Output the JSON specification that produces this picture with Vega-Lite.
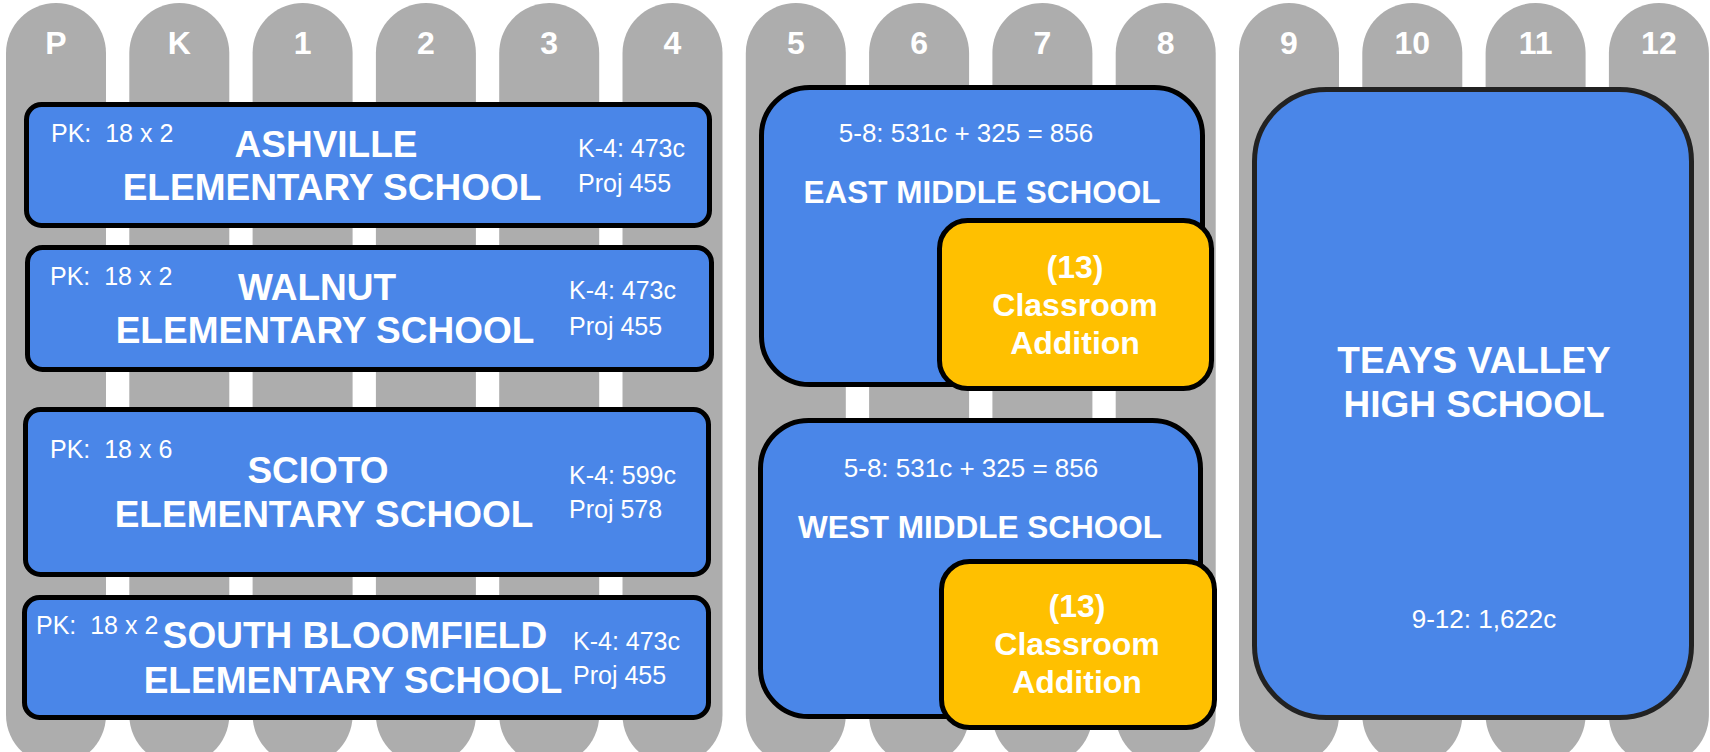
{
  "$schema": "https://vega.github.io/schema/vega-lite/v6.json",
  "width": 1710,
  "height": 752,
  "autosize": {"type": "none"},
  "padding": 0,
  "background": "white",
  "config": {"view": {"stroke": null}},
  "datasets": {
    "columns": [
      {"label": "P", "x0": 6, "x1": 106, "xc": 56, "y0": 3, "y1": 765, "ty": 54},
      {"label": "K", "x0": 129.3, "x1": 229.3, "xc": 179.3, "y0": 3, "y1": 765, "ty": 54},
      {"label": "1", "x0": 252.6, "x1": 352.6, "xc": 302.6, "y0": 3, "y1": 765, "ty": 54},
      {"label": "2", "x0": 375.9, "x1": 475.9, "xc": 425.9, "y0": 3, "y1": 765, "ty": 54},
      {"label": "3", "x0": 499.2, "x1": 599.2, "xc": 549.2, "y0": 3, "y1": 765, "ty": 54},
      {"label": "4", "x0": 622.5, "x1": 722.5, "xc": 672.5, "y0": 3, "y1": 765, "ty": 54},
      {"label": "5", "x0": 745.8, "x1": 845.8, "xc": 795.8, "y0": 3, "y1": 765, "ty": 54},
      {"label": "6", "x0": 869.1, "x1": 969.1, "xc": 919.1, "y0": 3, "y1": 765, "ty": 54},
      {"label": "7", "x0": 992.4, "x1": 1092.4, "xc": 1042.4, "y0": 3, "y1": 765, "ty": 54},
      {"label": "8", "x0": 1115.7, "x1": 1215.7, "xc": 1165.7, "y0": 3, "y1": 765, "ty": 54},
      {"label": "9", "x0": 1239, "x1": 1339, "xc": 1289, "y0": 3, "y1": 765, "ty": 54},
      {"label": "10", "x0": 1362.3, "x1": 1462.3, "xc": 1412.3, "y0": 3, "y1": 765, "ty": 54},
      {"label": "11", "x0": 1485.6, "x1": 1585.6, "xc": 1535.6, "y0": 3, "y1": 765, "ty": 54},
      {"label": "12", "x0": 1608.9, "x1": 1708.9, "xc": 1658.9, "y0": 3, "y1": 765, "ty": 54}
    ],
    "elem": [
      {"school": "Ashville", "x0": 26.5, "x1": 709.5, "y0": 104.5, "y1": 225.5},
      {"school": "Walnut", "x0": 27.5, "x1": 711.5, "y0": 247.5, "y1": 369.5},
      {"school": "Scioto", "x0": 25.5, "x1": 708.5, "y0": 409.5, "y1": 574.5},
      {"school": "South Bloomfield", "x0": 24.5, "x1": 708.5, "y0": 597.5, "y1": 717.5}
    ],
    "middle": [
      {"school": "East", "x0": 761.5, "x1": 1202.5, "y0": 87.5, "y1": 384.5},
      {"school": "West", "x0": 760.5, "x1": 1200.5, "y0": 420.5, "y1": 716.5}
    ],
    "high": [
      {"school": "Teays Valley", "x0": 1254.5, "x1": 1691.5, "y0": 89.5, "y1": 717.5}
    ],
    "additions": [
      {"school": "East", "x0": 939.5, "x1": 1211.5, "y0": 220.5, "y1": 388.5},
      {"school": "West", "x0": 941.5, "x1": 1214.5, "y0": 561.5, "y1": 727.5}
    ],
    "smallLeft": [
      {"t": "PK:\u00a0 18 x 2", "x": 51, "y": 142},
      {"t": "K-4: 473c", "x": 578, "y": 157},
      {"t": "Proj 455", "x": 578, "y": 192},
      {"t": "PK:\u00a0 18 x 2", "x": 50, "y": 285},
      {"t": "K-4: 473c", "x": 569, "y": 299},
      {"t": "Proj 455", "x": 569, "y": 335},
      {"t": "PK:\u00a0 18 x 6", "x": 50, "y": 458},
      {"t": "K-4: 599c", "x": 569, "y": 484},
      {"t": "Proj 578", "x": 569, "y": 518},
      {"t": "PK:\u00a0 18 x 2", "x": 36, "y": 634},
      {"t": "K-4: 473c", "x": 573, "y": 650},
      {"t": "Proj 455", "x": 573, "y": 684}
    ],
    "smallCenter": [
      {"t": "5-8: 531c + 325 = 856", "x": 966, "y": 142},
      {"t": "5-8: 531c + 325 = 856", "x": 971, "y": 477},
      {"t": "9-12: 1,622c", "x": 1484, "y": 628}
    ],
    "titles": [
      {"t": "ASHVILLE", "x": 326, "y": 157},
      {"t": "ELEMENTARY SCHOOL", "x": 332, "y": 200},
      {"t": "WALNUT", "x": 317, "y": 300},
      {"t": "ELEMENTARY SCHOOL", "x": 325, "y": 343},
      {"t": "SCIOTO", "x": 318, "y": 483},
      {"t": "ELEMENTARY SCHOOL", "x": 324, "y": 527},
      {"t": "SOUTH BLOOMFIELD", "x": 355, "y": 648},
      {"t": "ELEMENTARY SCHOOL", "x": 353, "y": 693},
      {"t": "TEAYS VALLEY", "x": 1474, "y": 373},
      {"t": "HIGH SCHOOL", "x": 1474, "y": 417}
    ],
    "midTitles": [
      {"t": "EAST MIDDLE SCHOOL", "x": 982, "y": 203},
      {"t": "WEST MIDDLE SCHOOL", "x": 980, "y": 538}
    ],
    "addText": [
      {"t": "(13)", "x": 1075, "y": 278},
      {"t": "Classroom", "x": 1075, "y": 316},
      {"t": "Addition", "x": 1075, "y": 354},
      {"t": "(13)", "x": 1077, "y": 617},
      {"t": "Classroom", "x": 1077, "y": 655},
      {"t": "Addition", "x": 1077, "y": 693}
    ]
  },
  "layer": [
    {
      "data": {"name": "columns"},
      "mark": {"type": "rect", "fill": "#ADADAD", "cornerRadius": 50},
      "encoding": {
        "x": {"field": "x0", "type": "quantitative", "scale": {"domain": [0, 1710], "nice": false, "zero": false}, "axis": null},
        "x2": {"field": "x1"},
        "y": {"field": "y0", "type": "quantitative", "scale": {"domain": [0, 752], "nice": false, "zero": false, "reverse": true}, "axis": null},
        "y2": {"field": "y1"}
      }
    },
    {
      "data": {"name": "columns"},
      "mark": {"type": "text", "font": "Liberation Sans", "fontSize": 32, "fontWeight": "bold", "fill": "white", "align": "center", "baseline": "alphabetic"},
      "encoding": {
        "x": {"field": "xc", "type": "quantitative", "axis": null},
        "y": {"field": "ty", "type": "quantitative", "axis": null},
        "text": {"field": "label"}
      }
    },
    {
      "data": {"name": "elem"},
      "mark": {"type": "rect", "fill": "#4A86E8", "stroke": "#000000", "strokeWidth": 5, "cornerRadius": 15},
      "encoding": {
        "x": {"field": "x0", "type": "quantitative", "axis": null},
        "x2": {"field": "x1"},
        "y": {"field": "y0", "type": "quantitative", "axis": null},
        "y2": {"field": "y1"}
      }
    },
    {
      "data": {"name": "middle"},
      "mark": {"type": "rect", "fill": "#4A86E8", "stroke": "#000000", "strokeWidth": 5, "cornerRadius": 48},
      "encoding": {
        "x": {"field": "x0", "type": "quantitative", "axis": null},
        "x2": {"field": "x1"},
        "y": {"field": "y0", "type": "quantitative", "axis": null},
        "y2": {"field": "y1"}
      }
    },
    {
      "data": {"name": "high"},
      "mark": {"type": "rect", "fill": "#4A86E8", "stroke": "#222222", "strokeWidth": 5, "cornerRadius": 72},
      "encoding": {
        "x": {"field": "x0", "type": "quantitative", "axis": null},
        "x2": {"field": "x1"},
        "y": {"field": "y0", "type": "quantitative", "axis": null},
        "y2": {"field": "y1"}
      }
    },
    {
      "data": {"name": "additions"},
      "mark": {"type": "rect", "fill": "#FFC000", "stroke": "#000000", "strokeWidth": 5, "cornerRadius": 28},
      "encoding": {
        "x": {"field": "x0", "type": "quantitative", "axis": null},
        "x2": {"field": "x1"},
        "y": {"field": "y0", "type": "quantitative", "axis": null},
        "y2": {"field": "y1"}
      }
    },
    {
      "data": {"name": "smallLeft"},
      "mark": {"type": "text", "font": "Liberation Sans", "fontSize": 25, "fill": "white", "align": "left", "baseline": "alphabetic"},
      "encoding": {
        "x": {"field": "x", "type": "quantitative", "axis": null},
        "y": {"field": "y", "type": "quantitative", "axis": null},
        "text": {"field": "t"}
      }
    },
    {
      "data": {"name": "smallCenter"},
      "mark": {"type": "text", "font": "Liberation Sans", "fontSize": 26, "fill": "white", "align": "center", "baseline": "alphabetic"},
      "encoding": {
        "x": {"field": "x", "type": "quantitative", "axis": null},
        "y": {"field": "y", "type": "quantitative", "axis": null},
        "text": {"field": "t"}
      }
    },
    {
      "data": {"name": "titles"},
      "mark": {"type": "text", "font": "Liberation Sans", "fontSize": 37, "fontWeight": "bold", "fill": "white", "align": "center", "baseline": "alphabetic"},
      "encoding": {
        "x": {"field": "x", "type": "quantitative", "axis": null},
        "y": {"field": "y", "type": "quantitative", "axis": null},
        "text": {"field": "t"}
      }
    },
    {
      "data": {"name": "midTitles"},
      "mark": {"type": "text", "font": "Liberation Sans", "fontSize": 31.5, "fontWeight": "bold", "fill": "white", "align": "center", "baseline": "alphabetic"},
      "encoding": {
        "x": {"field": "x", "type": "quantitative", "axis": null},
        "y": {"field": "y", "type": "quantitative", "axis": null},
        "text": {"field": "t"}
      }
    },
    {
      "data": {"name": "addText"},
      "mark": {"type": "text", "font": "Liberation Sans", "fontSize": 32, "fontWeight": "bold", "fill": "white", "align": "center", "baseline": "alphabetic"},
      "encoding": {
        "x": {"field": "x", "type": "quantitative", "axis": null},
        "y": {"field": "y", "type": "quantitative", "axis": null},
        "text": {"field": "t"}
      }
    }
  ]
}
